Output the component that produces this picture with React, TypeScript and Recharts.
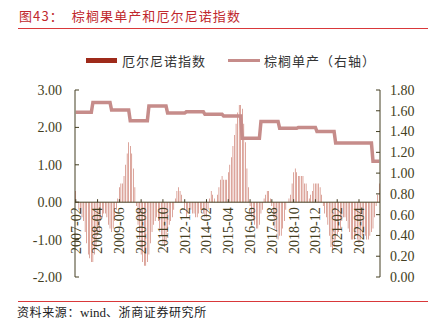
import React from "react";
import { ComposedChart, Bar, Line, XAxis, YAxis, ReferenceLine } from "recharts";

// ENSO index, monthly 2007-02 .. 2023-05
const enso2007 = [0.3, 0.0, -0.2, -0.3, -0.4, -0.5, -0.8, -1.1, -1.4, -1.5, -1.6];
const enso2008 = [-1.6, -1.4, -1.2, -0.9, -0.8, -0.5, -0.4, -0.3, -0.3, -0.4, -0.6, -0.7];
const enso2009 = [-0.8, -0.7, -0.5, -0.2, 0.1, 0.4, 0.5, 0.5, 0.7, 1.0, 1.3, 1.6];
const enso2010 = [1.5, 1.3, 0.9, 0.4, -0.1, -0.6, -1.0, -1.4, -1.6, -1.7, -1.7, -1.6];
const enso2011 = [-1.4, -1.1, -0.8, -0.6, -0.5, -0.4, -0.5, -0.7, -0.9, -1.1, -1.2, -1.1];
const enso2012 = [-0.8, -0.6, -0.5, -0.4, -0.2, 0.1, 0.3, 0.4, 0.3, 0.2, 0.0, -0.2];
const enso2013 = [-0.4, -0.3, -0.2, -0.2, -0.3, -0.3, -0.4, -0.4, -0.3, -0.2, -0.2, -0.3];
const enso2014 = [-0.4, -0.4, -0.2, 0.1, 0.3, 0.2, 0.1, 0.0, 0.2, 0.4, 0.6, 0.7];
const enso2015 = [0.6, 0.6, 0.6, 0.8, 1.0, 1.2, 1.5, 1.8, 2.1, 2.4, 2.6, 2.6];
const enso2016 = [2.5, 2.1, 1.6, 0.9, 0.4, -0.1, -0.4, -0.5, -0.6, -0.7, -0.7, -0.6];
const enso2017 = [-0.3, -0.2, 0.1, 0.2, 0.3, 0.3, 0.1, -0.1, -0.4, -0.7, -0.8, -1.0];
const enso2018 = [-0.9, -0.9, -0.7, -0.5, -0.2, 0.0, 0.1, 0.2, 0.5, 0.8, 0.9, 0.8];
const enso2019 = [0.7, 0.7, 0.7, 0.7, 0.5, 0.5, 0.3, 0.1, 0.2, 0.3, 0.5, 0.5];
const enso2020 = [0.5, 0.5, 0.4, 0.2, -0.1, -0.3, -0.4, -0.6, -0.9, -1.2, -1.3, -1.2];
const enso2021 = [-1.0, -0.9, -0.8, -0.7, -0.5, -0.4, -0.4, -0.5, -0.7, -0.8, -1.0, -1.0];
const enso2022 = [-1.0, -0.9, -1.0, -1.1, -1.0, -0.9, -0.8, -0.9, -1.0, -1.0, -0.9, -0.8];
const enso2023 = [-0.7, -0.4, -0.1, 0.2, 0.5];

const ensoMonthly = [
  ...enso2007, ...enso2008, ...enso2009, ...enso2010, ...enso2011, ...enso2012,
  ...enso2013, ...enso2014, ...enso2015, ...enso2016, ...enso2017, ...enso2018,
  ...enso2019, ...enso2020, ...enso2021, ...enso2022, ...enso2023,
];

// palm fruit yield per year (right axis), 2007 .. 2023
const yieldYears = [2007, 2008, 2009, 2010, 2011, 2012, 2013, 2014, 2015, 2016, 2017, 2018, 2019, 2020, 2021, 2022, 2023];
const yieldValues = [1.585, 1.68, 1.607, 1.505, 1.646, 1.578, 1.59, 1.566, 1.55, 1.335, 1.497, 1.432, 1.44, 1.4, 1.29, 1.29, 1.115];

const leftTicks = [-2, -1, 0, 1, 2, 3];
const rightTicks = [0, 0.2, 0.4, 0.6, 0.8, 1.0, 1.2, 1.4, 1.6, 1.8];

const W = 438;
const H = 328;
const PLOT_LEFT = 75;
const PLOT_RIGHT = 380;
const PLOT_TOP = 90;
const PLOT_BOTTOM = 277;
const X_AXIS_H = 20;
const LEFT_MIN = -2;
const LEFT_MAX = 3;

const AXIS_COLOR = "#443e22";
const BAR_COLOR = "#b5412d";
const LINE_COLOR = "#c68c8a";
const SERIF = "'Liberation Serif', 'DejaVu Serif', serif";
const CJK = "'Noto Sans CJK SC', sans-serif";

const data = ensoMonthly.map((v, i) => {
  const year = 2007 + Math.floor((i + 1) / 12);
  const month = ((i + 1) % 12) + 1;
  return {
    month: `${year}-${String(month).padStart(2, "0")}`,
    enso: v,
    yield: yieldValues[yieldYears.indexOf(year)],
  };
});

const plotH = PLOT_BOTTOM - PLOT_TOP;
const zeroOffset = (plotH * (0 - LEFT_MIN)) / (LEFT_MAX - LEFT_MIN);

function MonthTick(props: any) {
  const { x, y, payload } = props;
  const y0 = y - zeroOffset;
  return (
    <g>
      <line x1={x} x2={x} y1={y0} y2={y0 - 3} stroke={AXIS_COLOR} strokeWidth={1} />
      <text
        x={x}
        y={y0 + 5}
        dy="0.35em"
        textAnchor="end"
        transform={`rotate(-90, ${x}, ${y0 + 5})`}
        fontFamily={SERIF}
        fontSize={14}
        fill={AXIS_COLOR}
      >
        {payload.value}
      </text>
    </g>
  );
}

function LeftTick(props: any) {
  const { x, y, payload } = props;
  return (
    <g>
      <line x1={x} x2={x + 4} y1={y} y2={y} stroke={AXIS_COLOR} strokeWidth={1} />
      <text x={x - 13} y={y} dy="0.35em" textAnchor="end" fontFamily={SERIF} fontSize={14} fill={AXIS_COLOR}>
        {payload.value.toFixed(2)}
      </text>
    </g>
  );
}

function RightTick(props: any) {
  const { x, y, payload } = props;
  return (
    <g>
      <line x1={x - 4} x2={x} y1={y} y2={y} stroke={AXIS_COLOR} strokeWidth={1} />
      <text x={x + 10} y={y} dy="0.35em" textAnchor="start" fontFamily={SERIF} fontSize={14} fill={AXIS_COLOR}>
        {payload.value.toFixed(2)}
      </text>
    </g>
  );
}

export default function App() {
  return (
    <div style={{ position: "absolute", left: 0, top: 0, width: W, height: H, background: "#fff", overflow: "hidden" }}>
      <div
        style={{
          position: "absolute", left: 19, top: 6, fontFamily: CJK, fontSize: 13, color: "#c0282d",
          letterSpacing: 1.1, whiteSpace: "nowrap",
        }}
      >
        图43：&nbsp;&nbsp;棕榈果单产和厄尔尼诺指数
      </div>
      <div style={{ position: "absolute", left: 18, top: 28, width: 410, height: 1, background: "#d9383a" }} />

      <div
        style={{
          position: "absolute", left: 86, top: 51, display: "flex", alignItems: "center",
          fontFamily: CJK, fontSize: 13, color: "#333", whiteSpace: "nowrap",
        }}
      >
        <span style={{ display: "inline-block", width: 31, height: 5, background: "#9e2a1a", marginRight: 5 }} />
        <span style={{ letterSpacing: 1 }}>厄尔尼诺指数</span>
        <span style={{ display: "inline-block", width: 32, height: 3, background: LINE_COLOR, marginLeft: 22, marginRight: 4 }} />
        <span style={{ letterSpacing: 1 }}>棕榈单产（右轴）</span>
      </div>

      <div style={{ position: "absolute", left: 0, top: 0 }}>
        <ComposedChart
          width={W}
          height={H}
          data={data}
          margin={{ top: PLOT_TOP, right: 0, bottom: H - PLOT_BOTTOM - X_AXIS_H, left: 0 }}
          barCategoryGap="35%"
        >
          <YAxis
            yAxisId="left"
            orientation="left"
            width={PLOT_LEFT}
            domain={[LEFT_MIN, LEFT_MAX]}
            ticks={leftTicks}
            interval={0}
            axisLine={{ stroke: AXIS_COLOR }}
            tickLine={false}
            tickSize={0}
            tickMargin={0}
            tick={<LeftTick />}
          />
          <YAxis
            yAxisId="right"
            orientation="right"
            width={W - PLOT_RIGHT}
            domain={[0, 1.8]}
            ticks={rightTicks}
            interval={0}
            axisLine={{ stroke: AXIS_COLOR }}
            tickLine={false}
            tickSize={0}
            tickMargin={0}
            tick={<RightTick />}
          />
          <Bar yAxisId="left" dataKey="enso" name="厄尔尼诺指数" fill={BAR_COLOR} isAnimationActive={false} />
          <ReferenceLine yAxisId="left" y={0} stroke={AXIS_COLOR} strokeWidth={1} />
          <XAxis
            dataKey="month"
            interval={13}
            height={X_AXIS_H}
            axisLine={false}
            tickLine={false}
            tickSize={0}
            tickMargin={0}
            tick={<MonthTick />}
            zIndex={1000}
          />
          <Line
            yAxisId="right"
            dataKey="yield"
            name="棕榈单产（右轴）"
            stroke={LINE_COLOR}
            strokeWidth={3.5}
            dot={false}
            activeDot={false}
            isAnimationActive={false}
          />
        </ComposedChart>
      </div>

      <div style={{ position: "absolute", left: 18, top: 301, width: 410, height: 1, background: "#d9383a" }} />
      <div
        style={{
          position: "absolute", left: 17, top: 303, fontFamily: CJK, fontSize: 12, color: "#222",
          letterSpacing: 0.6, whiteSpace: "nowrap",
        }}
      >
        资料来源：<span style={{ fontFamily: SERIF, fontSize: 13, letterSpacing: 0 }}>wind</span>、浙商证券研究所
      </div>
    </div>
  );
}
